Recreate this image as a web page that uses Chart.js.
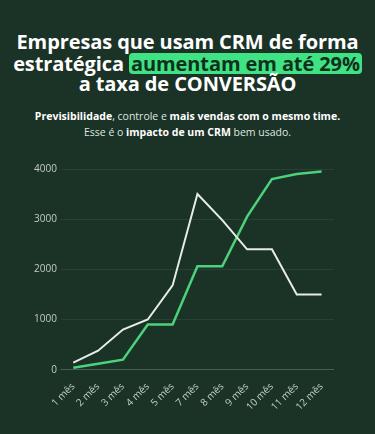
<!DOCTYPE html>
<html>
<head>
<meta charset="utf-8">
<script src="https://cdn.jsdelivr.net/npm/chart.js@4"></script>
<style>
  html, body { margin: 0; padding: 0; }
  body {
    width: 375px; height: 434px; overflow: hidden;
    background: #1b3226;
    font-family: 'Open Sans', sans-serif;
    color: #ffffff;
    position: relative;
  }
  .title {
    position: absolute; left: 0; top: 32px; width: 375px;
    text-align: center; font-weight: 700; font-size: 20px; line-height: 20.5px;
    letter-spacing: -0.1px;
  }
  .hl {
    display: inline-block; line-height: 21px;
    background: #3fe383; color: #10301d; border-radius: 4px; padding: 0 2px;
  }
  .sub {
    position: absolute; left: 0; top: 108px; width: 375px;
    text-align: center; font-size: 10.5px; line-height: 16px; color: #dfe6e1;
  }
  .sub b { color: #ffffff; }
  .wrap { position: absolute; left: 30px; top: 159px; width: 304px; height: 257px; }
</style>
</head>
<body>
<div class="title">Empresas que usam CRM de forma<br>estratégica <span class="hl">aumentam em até 29%</span><br>a taxa de CONVERSÃO</div>
<div class="sub"><b>Previsibilidade</b>, controle e <b>mais vendas com o mesmo time.</b><br>Esse é o <b>impacto de um CRM</b> bem usado.</div>
<div class="wrap"><canvas id="crmChart"></canvas></div>
<script>
const labels = ['1 mês', '2 mês', '3 mês', '4 mês', '5 mês', '7 mês', '8 mês', '9 mês', '10 mês', '11 mês', '12 mês'];
const whiteSeries = [140, 380, 800, 1000, 1680, 3500, 2980, 2400, 2400, 1500, 1500];
const greenSeries = [40, 120, 200, 900, 900, 2060, 2060, 3050, 3800, 3900, 3950];
const yTicks = [0, 1000, 2000, 3000, 4000];

const ctx = document.getElementById('crmChart').getContext('2d');

new Chart(ctx, {
  type: 'line',
  data: {
    labels: labels,
    datasets: [
      {
        label: 'Sem CRM',
        data: whiteSeries,
        borderColor: '#e8ece9',
        borderWidth: 2,
        pointRadius: 0,
        tension: 0,
      },
      {
        label: 'Com CRM',
        data: greenSeries,
        borderColor: '#4cd27c',
        borderWidth: 2.5,
        pointRadius: 0,
        tension: 0,
      },
    ],
  },
  options: {
    responsive: true,
    maintainAspectRatio: false,
    animation: false,
    layout: { padding: { top: 4, right: 0, bottom: 0, left: 0 } },
    plugins: {
      legend: { display: false },
      tooltip: { enabled: false },
    },
    scales: {
      x: {
        offset: true,
        grid: { display: false },
        border: { color: 'rgba(255, 255, 255, 0.15)' },
        ticks: {
          color: '#c2cdc6',
          font: { family: 'Open Sans', size: 10 },
          maxRotation: 45,
          minRotation: 45,
          autoSkip: false,
        },
      },
      y: {
        min: 0,
        max: 4000,
        afterBuildTicks: (scale) => { scale.ticks = yTicks.map((v) => ({ value: v })); },
        grid: { color: 'rgba(255, 255, 255, 0.07)', drawTicks: false },
        border: { display: false },
        ticks: {
          color: '#c2cdc6',
          font: { family: 'Open Sans', size: 10 },
          padding: 4,
          callback: (value) => String(value),
        },
      },
    },
  },
});
</script>
</body>
</html>
